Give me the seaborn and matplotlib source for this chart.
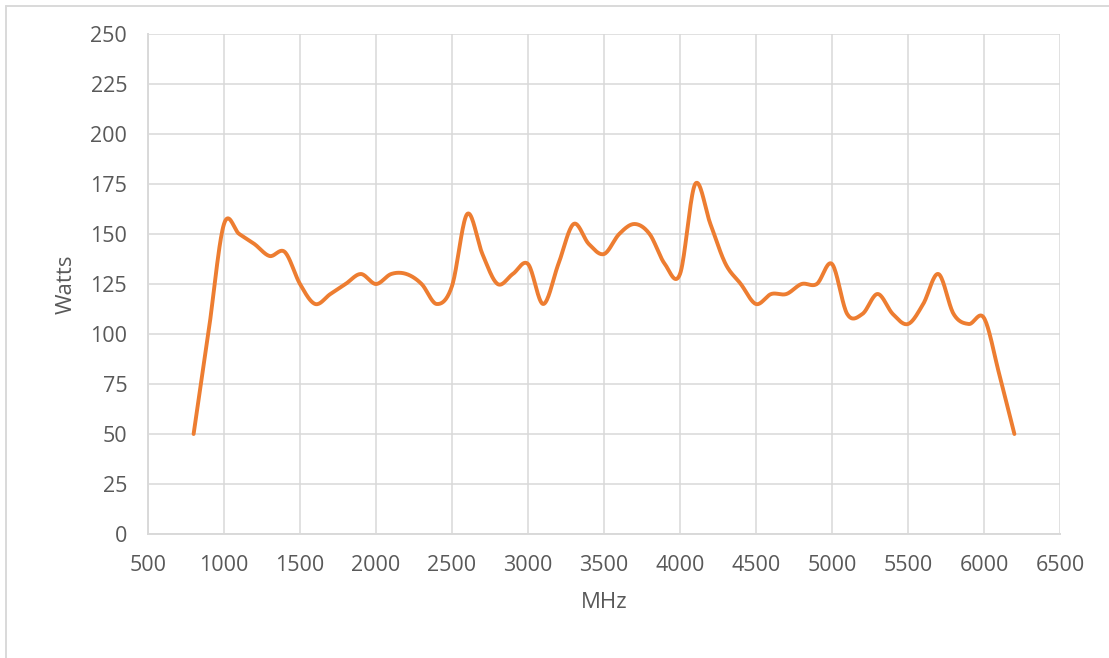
import numpy as np
import pandas as pd
import matplotlib
matplotlib.use("Agg")
import matplotlib.pyplot as plt
import seaborn as sns

# frequency sweep, one reading every 100 MHz
mhz = list(range(800, 6201, 100))
watts = [50, 102, 155, 150, 145, 139, 141, 125, 115, 120,
         125, 130, 125, 130, 130, 125, 115, 124, 160, 140,
         125, 130, 135, 115, 135, 155, 145, 140, 150, 155,
         150, 135, 130, 175, 155, 135, 125, 115, 120, 120,
         125, 125, 135, 110, 110, 120, 110, 105, 115, 130,
         110, 105, 108, 80, 50]

x_ticks = list(range(500, 6501, 500))
y_ticks = list(range(0, 251, 25))

line_color = "#ED7D31"
grid_color = "#D9D9D9"
text_color = "#595959"


def smooth(xs, ys, steps=20):
    # excel style smoothed line: bezier segments, control points at 1/6 of neighbour diff
    p = np.column_stack([xs, ys]).astype(float)
    p = np.vstack([p[0], p, p[-1]])
    out = []
    t = np.linspace(0, 1, steps, endpoint=False)[:, None]
    for i in range(1, len(p) - 2):
        p0, p1, p2, p3 = p[i - 1], p[i], p[i + 1], p[i + 2]
        c1 = p1 + (p2 - p0) / 6
        c2 = p2 - (p3 - p1) / 6
        seg = ((1 - t) ** 3) * p1 + 3 * ((1 - t) ** 2) * t * c1 + 3 * (1 - t) * t ** 2 * c2 + t ** 3 * p2
        out.append(seg)
    out.append(p[-2][None, :])
    out = np.vstack(out)
    return out[:, 0], out[:, 1]


sx, sy = smooth(mhz, watts)
curve = pd.DataFrame({"MHz": sx, "Watts": sy})

sns.set_theme(style="white")
plt.rcParams["font.family"] = ["Open Sans", "DejaVu Sans"]

fig = plt.figure(figsize=(11.09, 6.58), dpi=100)
ax = fig.add_axes([148 / 1109, 1 - 534 / 658, (1060 - 148) / 1109, (534 - 34) / 658])

sns.lineplot(data=curve, x="MHz", y="Watts", sort=False, estimator=None,
             color=line_color, linewidth=2.8, ax=ax)

ax.set_xlim(500, 6500)
ax.set_ylim(0, 250)
ax.set_xticks(x_ticks)
ax.set_yticks(y_ticks)
ax.grid(True, color=grid_color, linewidth=1.1)
ax.set_axisbelow(True)
for side in ["top", "right"]:
    ax.spines[side].set_visible(False)
for side in ["left", "bottom"]:
    ax.spines[side].set_color(grid_color)
    ax.spines[side].set_linewidth(1.4)

ax.tick_params(axis="both", length=0, labelsize=15.5, colors=text_color)
ax.tick_params(axis="x", pad=15)
ax.tick_params(axis="y", pad=15)

ax.set_xlabel("MHz", fontsize=16, color=text_color, labelpad=12)
ax.set_ylabel("Watts", fontsize=16, color=text_color, labelpad=10)

# chart area border, only top and left edges are visible in the crop
fig.add_artist(plt.Line2D([6 / 1109, 1], [1 - 6 / 658, 1 - 6 / 658],
                          transform=fig.transFigure, color=grid_color, linewidth=1.4))
fig.add_artist(plt.Line2D([6 / 1109, 6 / 1109], [0, 1 - 6 / 658],
                          transform=fig.transFigure, color=grid_color, linewidth=1.4))

fig.savefig("out.png", dpi=100)
